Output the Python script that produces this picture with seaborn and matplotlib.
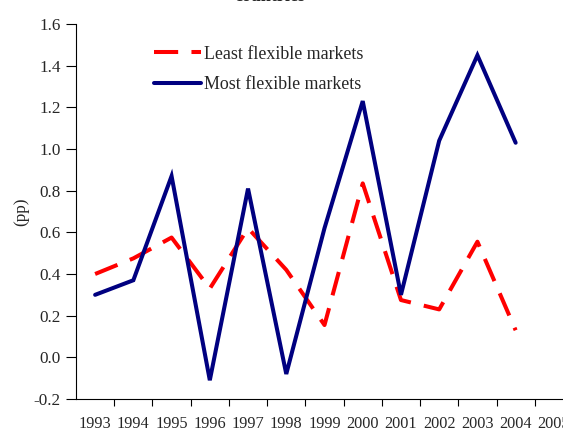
import numpy as np
import pandas as pd
import matplotlib
matplotlib.use("Agg")
import matplotlib.pyplot as plt
import seaborn as sns

# Data
years = [1993, 1994, 1995, 1996, 1997, 1998, 1999, 2000, 2001, 2002, 2003, 2004]
least_flexible = [0.40, 0.475, 0.575, 0.33, 0.62, 0.42, 0.155, 0.835, 0.275, 0.23, 0.555, 0.13]
most_flexible = [0.30, 0.37, 0.87, -0.11, 0.81, -0.08, 0.62, 1.23, 0.30, 1.04, 1.45, 1.03]
year_labels = [str(y) for y in range(1993, 2006)]
y_ticks = [-0.2, 0.0, 0.2, 0.4, 0.6, 0.8, 1.0, 1.2, 1.4, 1.6]

df = pd.DataFrame({
    "year": years * 2,
    "value": least_flexible + most_flexible,
    "series": ["Least flexible markets"] * len(years) + ["Most flexible markets"] * len(years),
})

sns.set_style("white")
plt.rcParams["font.family"] = ["Liberation Serif", "DejaVu Serif"]

fig = plt.figure(figsize=(5.63, 4.32), dpi=100)
# axes runs a little past the right edge, like the cropped original
ax = fig.add_axes([76 / 563, 33 / 432, 497 / 563, 375 / 432])

sns.lineplot(data=df[df.series == "Least flexible markets"], x="year", y="value",
             color="#FF0000", linewidth=2.9, ax=ax, label="Least flexible markets")
sns.lineplot(data=df[df.series == "Most flexible markets"], x="year", y="value",
             color="#000080", linewidth=2.9, ax=ax, label="Most flexible markets")
red_line = ax.lines[0]
red_line.set_dashes((6, 3.3))
red_line.set_dash_capstyle("butt")
for ln in ax.lines:
    ln.set_solid_joinstyle("miter")

ax.set_xlim(1992.5, 2005.5)
ax.set_ylim(-0.2, 1.6)

ax.set_xticks(range(1993, 2006))
ax.set_xticklabels(year_labels, fontsize=11.7)
ax.set_xticks(np.arange(1993.5, 2006, 1.0), minor=True)
ax.tick_params(axis="x", which="major", bottom=True, length=0, pad=12)
ax.tick_params(axis="x", which="minor", bottom=True, length=5, width=0.8,
               color="black", direction="out")

ax.set_yticks(y_ticks)
ax.set_yticklabels([f"{v:.1f}" for v in y_ticks], fontsize=12.3)
ax.tick_params(axis="y", left=True, length=7, width=0.8, color="black",
               direction="out", pad=4)

for side in ["top", "right"]:
    ax.spines[side].set_visible(False)
for side in ["left", "bottom"]:
    ax.spines[side].set_color("black")
    ax.spines[side].set_linewidth(0.8)

ax.set_xlabel("")
ax.set_ylabel("(pp)", fontsize=12.3, labelpad=3)

leg = ax.legend(loc="upper left", bbox_to_anchor=(0.125, 0.985), frameon=False,
                fontsize=12.9, handlelength=2.6, handletextpad=0.2, labelspacing=0.75)

fig.text(0.48, 0.998, "countries", ha="center", va="baseline",
         fontsize=13, fontweight="bold")

fig.savefig("out.png", dpi=100)
